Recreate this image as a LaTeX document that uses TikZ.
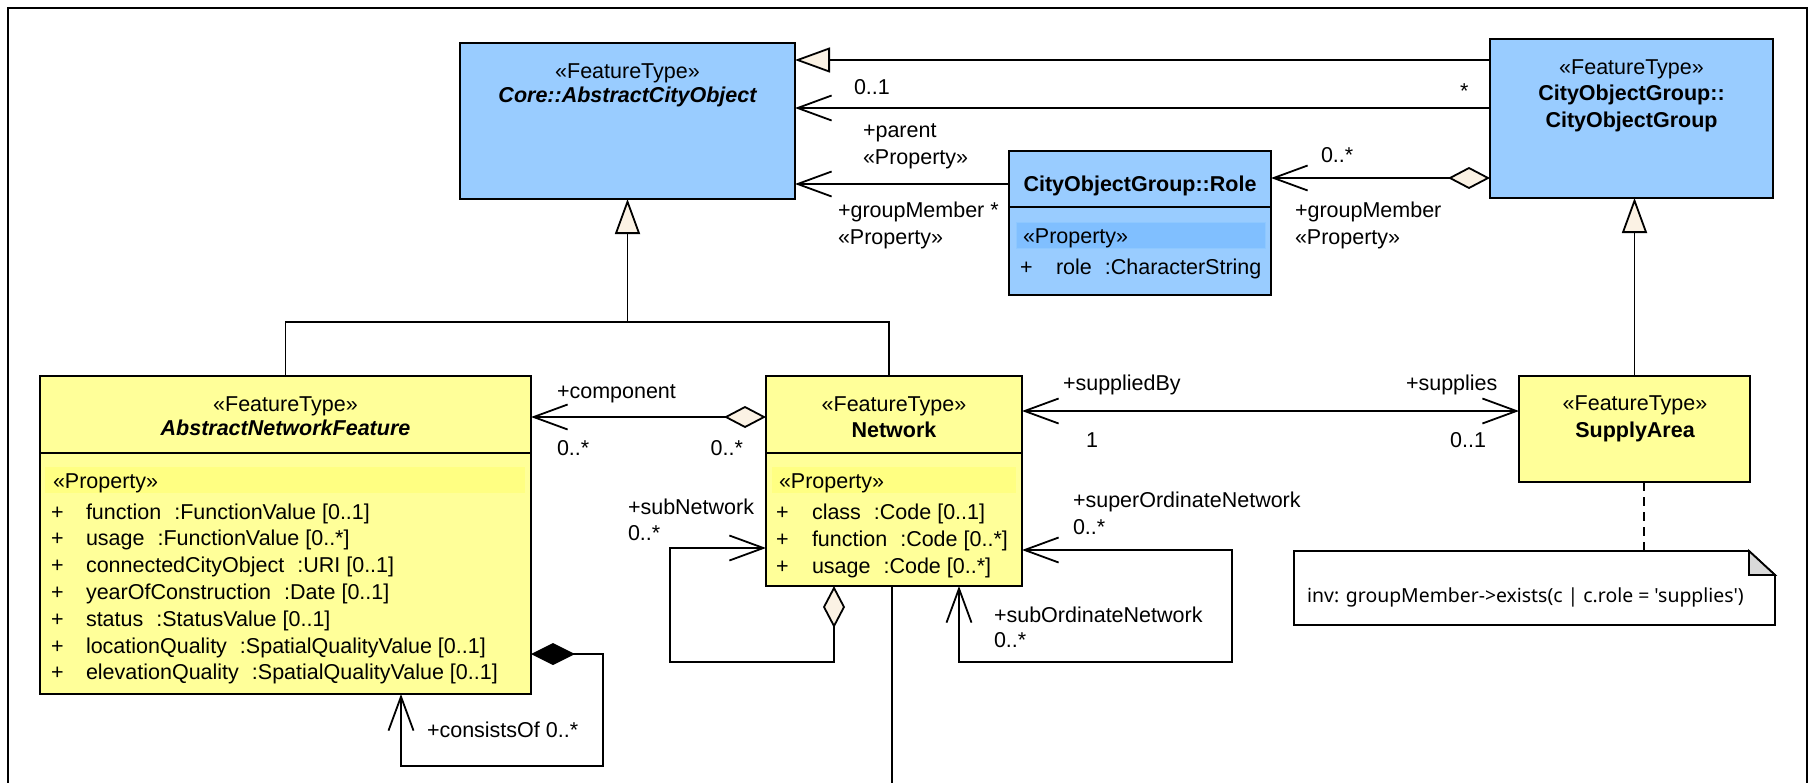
\documentclass[tikz,border=0pt]{standalone}
\usepackage{fontspec}
\setmainfont{Liberation Sans}
\newfontfamily\notefont{Noto Sans}
\usetikzlibrary{arrows.meta,calc}
\definecolor{cblue}{HTML}{99CCFF}
\definecolor{cblueh}{HTML}{80BFFF}
\definecolor{cbluel}{HTML}{8EC8FF}
\definecolor{cyel}{HTML}{FFFF99}
\definecolor{cyelh}{HTML}{FFFF82}
\definecolor{cream}{HTML}{FBF2E4}
\definecolor{foldgray}{HTML}{D9D9D9}
\newcommand\fs{\fontsize{21.5}{26}\selectfont}
\newcommand\gap{\hspace{13pt}}
\begin{document}
\begin{tikzpicture}[x=1pt,y=-1pt,
  box/.style={draw, line width=2pt, inner sep=0pt, outer sep=0pt, anchor=north west},
  boxline/.style={line width=2pt},
  txt/.style={inner sep=0pt, outer sep=0pt, font=\fs},
  ctr/.style={txt, anchor=base},
  ctrb/.style={txt, anchor=base, font=\fs\bfseries},
  ctrbi/.style={txt, anchor=base, font=\fs\bfseries\itshape},
  lbl/.style={txt, anchor=base west},
  lblr/.style={txt, anchor=base east},
  conn/.style={line width=1.8pt},
  assoc/.style={conn, -{Straight Barb[length=34pt,width=25pt]}},
  assoc2/.style={conn, {Straight Barb[length=34pt,width=25pt]}-{Straight Barb[length=34pt,width=25pt]}},
  aggr/.style={conn, {Diamond[length=42pt,width=22pt,fill=cream]}-{Straight Barb[length=34pt,width=25pt]}},
  comp/.style={conn, {Diamond[length=44pt,width=22pt,fill=black]}-{Straight Barb[length=34pt,width=25pt]}},
  gen/.style={conn, -{Triangle[length=35pt,width=25pt,fill=cream]}},
  gennone/.style={conn},
  frame/.style={line width=1.8pt}
]
\useasboundingbox (0,0) rectangle (1811,782);
\draw[frame] (8,800) -- (8,8) -- (1807,8) -- (1807,800);

% ---------- boxes ----------
\node[box,fill=cblue,minimum width=335pt,minimum height=156pt] (aco) at (460,43) {};
\node[box,fill=cblue,minimum width=283pt,minimum height=159pt] (cog) at (1490,39) {};
\node[box,fill=cblue,minimum width=262pt,minimum height=144pt] (role) at (1009,151) {};
\node[box,fill=cyel,minimum width=491pt,minimum height=318pt] (anf) at (40,376) {};
\node[box,fill=cyel,minimum width=256pt,minimum height=210pt] (net) at (766,376) {};
\node[box,fill=cyel,minimum width=231pt,minimum height=106pt] (sa) at (1519,376) {};
\node[inner sep=0pt,outer sep=0pt,anchor=north west,minimum width=481pt,minimum height=74pt] (note) at (1294,551) {};

% property highlights
\filldraw[fill=cblueh,draw=cbluel,line width=1pt] (1016,222) rectangle (1265,248);
\fill[cyelh] (45,467) rectangle (525,493);
\fill[cyelh] (772,467) rectangle (1016,493);

% dividers
\draw[boxline] ([yshift=-56pt]role.north west) -- ([yshift=-56pt]role.north east);
\draw[boxline] ([yshift=-77pt]anf.north west) -- ([yshift=-77pt]anf.north east);
\draw[boxline] ([yshift=-77pt]net.north west) -- ([yshift=-77pt]net.north east);

% note
\draw[line width=1.8pt,fill=white] (note.north west) -- ([xshift=-26pt]note.north east) -- ([yshift=-24pt]note.north east) -- (note.south east) -- (note.south west) -- cycle;
\filldraw[line width=1.8pt,fill=foldgray] ([xshift=-26pt]note.north east) -- ([xshift=-26pt,yshift=-24pt]note.north east) -- ([yshift=-24pt]note.north east) -- cycle;
\node[inner sep=0pt,anchor=base west,font=\notefont\fontsize{19.4}{23}\selectfont] (notetxt) at (1307,602) {inv: groupMember->exists(c | c.role = 'supplies')};

% ---------- texts in boxes ----------
\node[ctr] (aco-s) at (627.5,78) {«FeatureType»};
\node[ctrbi] (aco-n) at (627.5,102) {Core::AbstractCityObject};

\node[ctr] (cog-s) at (1631.5,74) {«FeatureType»};
\node[ctrb] (cog-n1) at (1631.5,100) {CityObjectGroup::};
\node[ctrb] (cog-n2) at (1631.5,127) {CityObjectGroup};

\node[ctrb] (role-n) at (1140,191) {CityObjectGroup::Role};
\node[lbl] (role-p) at (1023,243) {«Property»};
\node[lbl] (role-a0) at (1020,274) {+};
\node[lbl] (role-a1) at (1056,274) {role\gap:CharacterString};

\node[ctr] (anf-s) at (285.5,411) {«FeatureType»};
\node[ctrbi] (anf-n) at (285.5,435) {AbstractNetworkFeature};
\node[lbl] (anf-p) at (53,488) {«Property»};
\node[lbl] (anf-p1) at (51,519) {+};
\node[lbl] (anf-a1) at (86,519) {function\gap:FunctionValue [0..1]};
\node[lbl] (anf-p2) at (51,545.8) {+};
\node[lbl] (anf-a2) at (86,545.8) {usage\gap:FunctionValue [0..*]};
\node[lbl] (anf-p3) at (51,572.6) {+};
\node[lbl] (anf-a3) at (86,572.6) {connectedCityObject\gap:URI [0..1]};
\node[lbl] (anf-p4) at (51,599.4) {+};
\node[lbl] (anf-a4) at (86,599.4) {yearOfConstruction\gap:Date [0..1]};
\node[lbl] (anf-p5) at (51,626.2) {+};
\node[lbl] (anf-a5) at (86,626.2) {status\gap:StatusValue [0..1]};
\node[lbl] (anf-p6) at (51,653) {+};
\node[lbl] (anf-a6) at (86,653) {locationQuality\gap:SpatialQualityValue [0..1]};
\node[lbl] (anf-p7) at (51,679.8) {+};
\node[lbl] (anf-a7) at (86,679.8) {elevationQuality\gap:SpatialQualityValue [0..1]};

\node[ctr] (net-s) at (894,411) {«FeatureType»};
\node[ctrb] (net-n) at (894,437) {Network};
\node[lbl] (net-p) at (779,488) {«Property»};
\node[lbl] (net-p1) at (776,519) {+};
\node[lbl] (net-a1) at (812,519) {class\gap:Code [0..1]};
\node[lbl] (net-p2) at (776,546) {+};
\node[lbl] (net-a2) at (812,546) {function\gap:Code [0..*]};
\node[lbl] (net-p3) at (776,573) {+};
\node[lbl] (net-a3) at (812,573) {usage\gap:Code [0..*]};

\node[ctr] (sa-s) at (1635,410) {«FeatureType»};
\node[ctrb] (sa-n) at (1635,437) {SupplyArea};

% ---------- connectors ----------
\draw[gen] ([yshift=-21pt]cog.north west) -- ([yshift=-17pt]aco.north east);
\draw[assoc] ([yshift=-69pt]cog.north west) -- ([yshift=-65pt]aco.north east);
\draw[assoc] ([yshift=-33pt]role.north west) -- ([yshift=-141pt]aco.north east);
\draw[aggr] ([yshift=-139pt]cog.north west) -- ([yshift=-27pt]role.north east);
\draw[gen] (sa.north) -- (sa.north |- cog.south);
\coordinate (gj) at (627.5,322);
\draw[gen] (gj) -- (aco.south);
\draw[gennone] (anf.north) |- (gj) -| ([xshift=-5pt]net.north);
\draw[aggr] ([yshift=-41pt]net.north west) -- ([yshift=-41pt]anf.north east);
\draw[assoc2] ([yshift=-35pt]net.north east) -- ([yshift=-35pt]sa.north west);
\draw[aggr] ([xshift=68pt]net.south west) |- (670,662) |- ([yshift=-172pt]net.north west);
\draw[assoc2] ([xshift=193pt]net.south west) |- (1232,662) |- ([yshift=-174pt]net.north east);
\draw[comp] ([yshift=-278pt]anf.north east) -| (603,766) -| ([xshift=361pt]anf.south west);
\coordinate (netdown) at (892,800);
\draw[conn] ([xshift=126pt]net.south west) -- (netdown);
\draw[conn,dash pattern=on 9pt off 6pt] ([xshift=125pt]sa.south west) -- ([xshift=350pt]note.north west);

% ---------- labels ----------
\node[lbl] (l01) at (854,94) {0..1};
\node[lbl] (lstar) at (1460,98) {*};
\node[lbl] (lpar) at (863,137) {+parent};
\node[lbl] (lparp) at (863,164) {«Property»};
\node[lbl] (lgm1) at (838,217) {+groupMember *};
\node[lbl] (lgm1p) at (838,244) {«Property»};
\node[lbl] (lgm2m) at (1321,162) {0..*};
\node[lbl] (lgm2) at (1295,217) {+groupMember};
\node[lbl] (lgm2p) at (1295,244) {«Property»};
\node[lbl] (lcomp) at (557,398) {+component};
\node[lbl] (lcompm) at (557,455) {0..*};
\node[lblr] (lcompm2) at (743,455) {0..*};
\node[lbl] (lsb) at (1063,390) {+suppliedBy};
\node[lbl] (lsb1) at (1086,447) {1};
\node[lbl] (lsup) at (1406,390) {+supplies};
\node[lblr] (lsupm) at (1486,447) {0..1};
\node[lbl] (lsubn) at (628,514) {+subNetwork};
\node[lbl] (lsubnm) at (628,540) {0..*};
\node[lbl] (lsupo) at (1073,507) {+superOrdinateNetwork};
\node[lbl] (lsupom) at (1073,534) {0..*};
\node[lbl] (lsubo) at (994,622) {+subOrdinateNetwork};
\node[lbl] (lsubom) at (994,647) {0..*};
\node[lbl] (lcons) at (427,737) {+consistsOf 0..*};
\end{tikzpicture}
\end{document}
